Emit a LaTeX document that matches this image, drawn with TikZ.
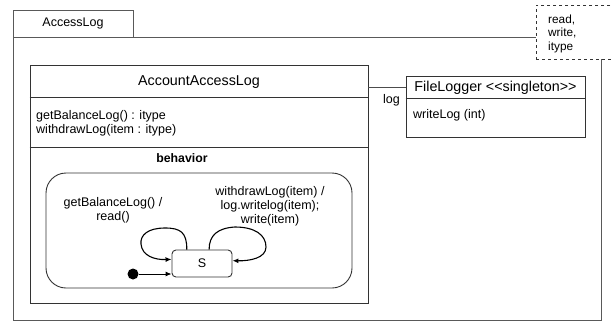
\documentclass[tikz,border=0pt]{standalone}
\usepackage{fontspec}
\setmainfont{Liberation Sans}
\usetikzlibrary{arrows.meta,calc}

\tikzset{
  box/.style={draw=black!80, line width=0.9pt, inner sep=0pt, fill=white},
  pkgline/.style={draw=black!65, line width=1pt},
  txt/.style={inner sep=0pt, font=\fontsize{12.5}{14}\selectfont},
  bigtxt/.style={inner sep=0pt, font=\fontsize{14.3}{16}\selectfont},
  notetxt/.style={inner sep=0pt, font=\fontsize{11.8}{13.5}\selectfont, align=left},
  trans/.style={draw=black, line width=1.1pt, -{Latex[length=6pt,width=5pt]}}
}

\begin{document}
\begin{tikzpicture}[x=1pt,y=-1pt]
\useasboundingbox (0,0) rectangle (612,322);

% package frame with its name tab
\node[box, pkgline, minimum width=120pt, minimum height=27pt] (tab) at (73,23.5) {};
\node[txt] (tabname) at (tab.center) {AccessLog};
\node[box, pkgline, minimum width=588pt, minimum height=283pt] (pkg) at (307,178.5) {};

% note in the upper right corner
\node[box, dashed, minimum width=76pt, minimum height=54pt] (note) at (574,32) {};
\node[notetxt, anchor=west] (notetext) at (548,33.5) {read,\\write,\\itype};

% class AccountAccessLog
\node[box, minimum width=338pt, minimum height=238pt] (cls) at (199,184) {};
\draw[black!80, line width=0.9pt] (cls.west |- 0,97) -- (cls.east |- 0,97);
\draw[black!80, line width=0.9pt] (cls.west |- 0,147) -- (cls.east |- 0,147);
\node[bigtxt] (clsname) at (199,82.5) {AccountAccessLog};
\node[txt, anchor=west, align=left] (ops) at (36,123) {getBalanceLog() : itype\\withdrawLog(item : itype)};
\node[txt, font=\fontsize{12.3}{14}\selectfont\bfseries] (beh) at (182,158) {behavior};

% state machine of the behavior compartment
\node[box, minimum width=306pt, minimum height=115pt, rounded corners=20pt] (sm) at (199,230.5) {};
\node[box, minimum width=60pt, minimum height=27pt, rounded corners=4pt] (S) at (202,263.5) {};
\node[txt] (Sname) at (S.center) {S};
\node[circle, fill=black, inner sep=0pt, minimum size=11pt] (init) at (133,274) {};
\draw[trans, line width=0.9pt] (init) -- (init -| S.west);

\coordinate (lstart) at ($(S.north west)!0.25!(S.north east)$);
\coordinate (lend) at ($(S.north west)!0.35!(S.south west)$);
\draw[trans] (lstart) .. controls (187,232) and (180,228) .. (165,228)
  .. controls (148,228) and (140,235) .. (141,244)
  .. controls (142,256) and (155,260) .. (lend);

\coordinate (rstart) at ($(S.north west)!0.617!(S.north east)$);
\coordinate (rend) at ($(S.north east)!0.4!(S.south east)$);
\draw[trans] (rstart) .. controls (209,235) and (218,228) .. (235,227)
  .. controls (255,227) and (266,235) .. (266,247)
  .. controls (266,258) and (250,261) .. (rend);

\node[txt, align=center] (lloop) at (113,210) {getBalanceLog() /\\read()};
\node[txt, align=center] (rloop) at (270,206) {withdrawLog(item) /\\log.writelog(item);\\write(item)};

% class FileLogger
\node[box, minimum width=179pt, minimum height=61pt] (fl) at (495.5,106.5) {};
\draw[black!80, line width=0.9pt] (fl.west |- 0,98) -- (fl.east |- 0,98);
\node[bigtxt] (flname) at (495.5,87.5) {FileLogger <{}<singleton>{}>};
\node[txt, anchor=west] (flop) at (413,115.5) {writeLog (int)};

% association
\coordinate (flA) at ($(fl.north west)!0.197!(fl.south west)$);
\draw[black!70, line width=0.9pt] (cls.east |- flA) -- (flA);
\node[txt, anchor=east] (role) at (400,100) {log};
\end{tikzpicture}
\end{document}
